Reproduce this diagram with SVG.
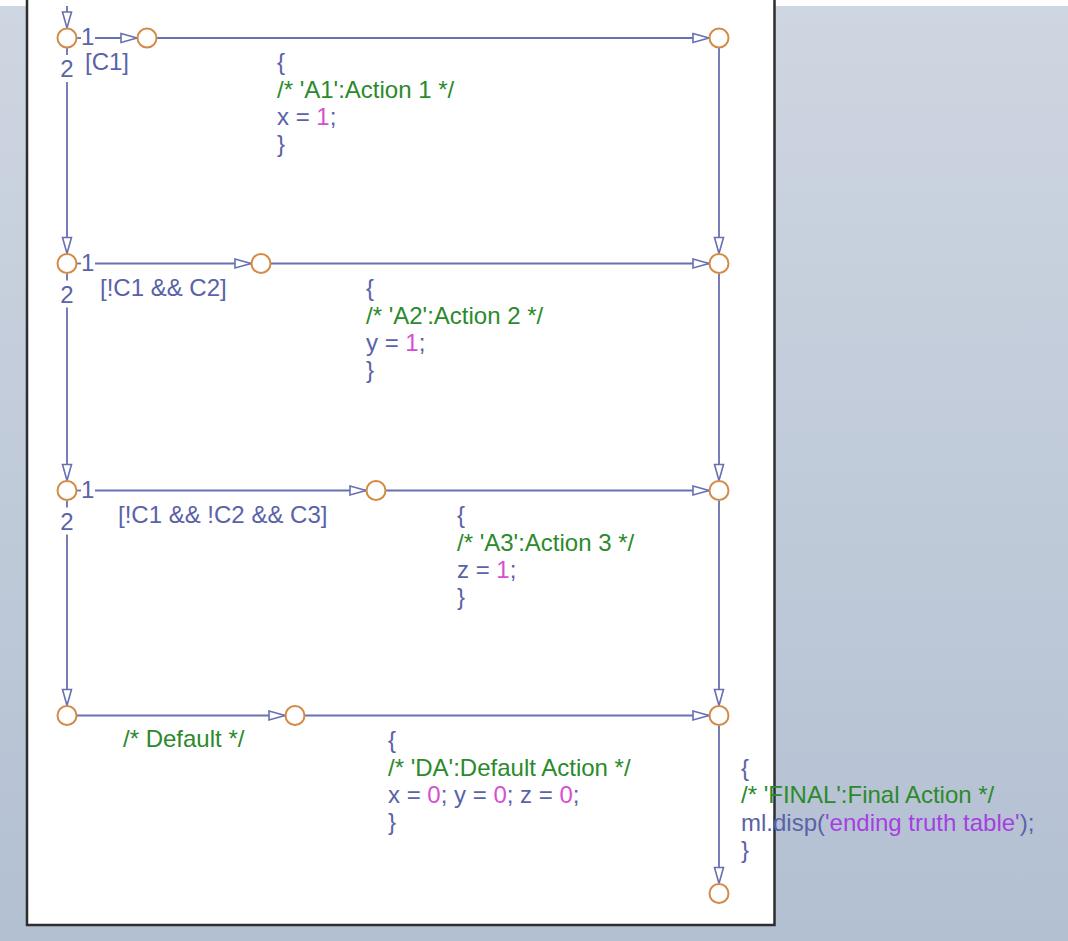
<svg xmlns="http://www.w3.org/2000/svg" width="1068" height="941" viewBox="0 0 1068 941">
<defs>
<linearGradient id="bg" x1="0" y1="0" x2="0" y2="1">
<stop offset="0" stop-color="#ced6e1"/>
<stop offset="1" stop-color="#b3c0d2"/>
</linearGradient>
<marker id="arr" markerUnits="userSpaceOnUse" markerWidth="18" markerHeight="12" refX="16" refY="5" orient="auto" overflow="visible">
<path d="M0,0.5 L16,5 L0,9.5 Z" fill="#ffffff" stroke="#6870b3" stroke-width="1.6" stroke-linejoin="miter"/>
</marker>
<style>
.c{fill:none;stroke:#6870b3;stroke-width:1.8}
.j{fill:#ffffff;stroke:#d38a45;stroke-width:2}
.t{font-family:"Liberation Sans",Arial,Helvetica,sans-serif;font-size:24px;fill:#5a62a8}
.g{fill:#2b8a2b}
.m{fill:#d64fd0}
.p{fill:#a53fe0}
.mid{text-anchor:middle}
</style>
</defs>
<rect x="0" y="0" width="1068" height="941" fill="url(#bg)"/>
<rect x="0" y="0" width="1068" height="6" fill="#ffffff"/>
<g id="panel">
<rect x="27" y="0" width="747.5" height="925" fill="#ffffff"/>
<path d="M27,0 V925 H774.5 V0" fill="none" stroke="#2e2e2e" stroke-width="2.5"/>
</g>
<g id="connectors">
<line class="c" x1="67" y1="6" x2="67" y2="28" marker-end="url(#arr)"/>
<!-- row 1 -->
<line class="c" x1="77" y1="38" x2="81" y2="38"/>
<line class="c" x1="95" y1="38" x2="137" y2="38" marker-end="url(#arr)"/>
<line class="c" x1="157" y1="38" x2="709" y2="38" marker-end="url(#arr)"/>
<line class="c" x1="67" y1="48" x2="67" y2="55"/>
<line class="c" x1="67" y1="82" x2="67" y2="253.5" marker-end="url(#arr)"/>
<line class="c" x1="719" y1="48" x2="719" y2="253.5" marker-end="url(#arr)"/>
<text class="t" x="81" y="45">1</text>
<text class="t mid" x="67" y="77">2</text>
<text class="t" x="85" y="70">[C1]</text>
<!-- row 2 -->
<line class="c" x1="77" y1="263.5" x2="81" y2="263.5"/>
<line class="c" x1="95" y1="263.5" x2="251" y2="263.5" marker-end="url(#arr)"/>
<line class="c" x1="271" y1="263.5" x2="709" y2="263.5" marker-end="url(#arr)"/>
<line class="c" x1="67" y1="273.5" x2="67" y2="280.5"/>
<line class="c" x1="67" y1="307.5" x2="67" y2="480.5" marker-end="url(#arr)"/>
<line class="c" x1="719" y1="273.5" x2="719" y2="480.5" marker-end="url(#arr)"/>
<text class="t" x="81" y="270.5">1</text>
<text class="t mid" x="67" y="302.5">2</text>
<text class="t" x="100" y="295.5">[!C1 &amp;&amp; C2]</text>
<!-- row 3 -->
<line class="c" x1="77" y1="490.5" x2="81" y2="490.5"/>
<line class="c" x1="95" y1="490.5" x2="366" y2="490.5" marker-end="url(#arr)"/>
<line class="c" x1="386" y1="490.5" x2="709" y2="490.5" marker-end="url(#arr)"/>
<line class="c" x1="67" y1="500.5" x2="67" y2="507.5"/>
<line class="c" x1="67" y1="534.5" x2="67" y2="705.5" marker-end="url(#arr)"/>
<line class="c" x1="719" y1="500.5" x2="719" y2="705.5" marker-end="url(#arr)"/>
<text class="t" x="81" y="497.5">1</text>
<text class="t mid" x="67" y="529.5">2</text>
<text class="t" x="118" y="522.5">[!C1 &amp;&amp; !C2 &amp;&amp; C3]</text>
<!-- row 4 -->
<line class="c" x1="77" y1="715.5" x2="285" y2="715.5" marker-end="url(#arr)"/>
<line class="c" x1="305" y1="715.5" x2="709" y2="715.5" marker-end="url(#arr)"/>
<line class="c" x1="719" y1="725.5" x2="719" y2="883.5" marker-end="url(#arr)"/>
<text class="t g" x="123" y="746.5">/* Default */</text>
</g>
<g id="j1a"><circle class="j" cx="67" cy="38" r="9.5"/></g>
<g id="j1b"><circle class="j" cx="147" cy="38" r="9.5"/></g>
<g id="j1c"><circle class="j" cx="719" cy="38" r="9.5"/></g>
<g id="j2a"><circle class="j" cx="67" cy="263.5" r="9.5"/></g>
<g id="j2b"><circle class="j" cx="261" cy="263.5" r="9.5"/></g>
<g id="j2c"><circle class="j" cx="719" cy="263.5" r="9.5"/></g>
<g id="j3a"><circle class="j" cx="67" cy="490.5" r="9.5"/></g>
<g id="j3b"><circle class="j" cx="376" cy="490.5" r="9.5"/></g>
<g id="j3c"><circle class="j" cx="719" cy="490.5" r="9.5"/></g>
<g id="j4a"><circle class="j" cx="67" cy="715.5" r="9.5"/></g>
<g id="j4b"><circle class="j" cx="295" cy="715.5" r="9.5"/></g>
<g id="j4c"><circle class="j" cx="719" cy="715.5" r="9.5"/></g>
<g id="jfinal"><circle class="j" cx="719" cy="893.5" r="9.5"/></g>
<g id="action1">
<text class="t" x="277" y="70">{</text>
<text class="t g" x="277" y="98">/* 'A1':Action 1 */</text>
<text class="t" x="277" y="125">x = <tspan class="m">1</tspan>;</text>
<text class="t" x="277" y="152">}</text>
</g>
<g id="action2">
<text class="t" x="366" y="295.5">{</text>
<text class="t g" x="366" y="323.5">/* 'A2':Action 2 */</text>
<text class="t" x="366" y="350.5">y = <tspan class="m">1</tspan>;</text>
<text class="t" x="366" y="377.5">}</text>
</g>
<g id="action3">
<text class="t" x="457" y="522.5">{</text>
<text class="t g" x="457" y="550.5">/* 'A3':Action 3 */</text>
<text class="t" x="457" y="577.5">z = <tspan class="m">1</tspan>;</text>
<text class="t" x="457" y="604.5">}</text>
</g>
<g id="actionDA">
<text class="t" x="388" y="747.5">{</text>
<text class="t g" x="388" y="775.5">/* 'DA':Default Action */</text>
<text class="t" x="388" y="802.5">x = <tspan class="m">0</tspan>; y = <tspan class="m">0</tspan>; z = <tspan class="m">0</tspan>;</text>
<text class="t" x="388" y="829.5">}</text>
</g>
<g id="actionFinal">
<text class="t" x="741" y="776">{</text>
<text class="t g" x="741" y="803">/* 'FINAL':Final Action */</text>
<text class="t" x="741" y="831">ml.disp(<tspan class="p">'ending truth table'</tspan>);</text>
<text class="t" x="741" y="858">}</text>
</g>
</svg>
